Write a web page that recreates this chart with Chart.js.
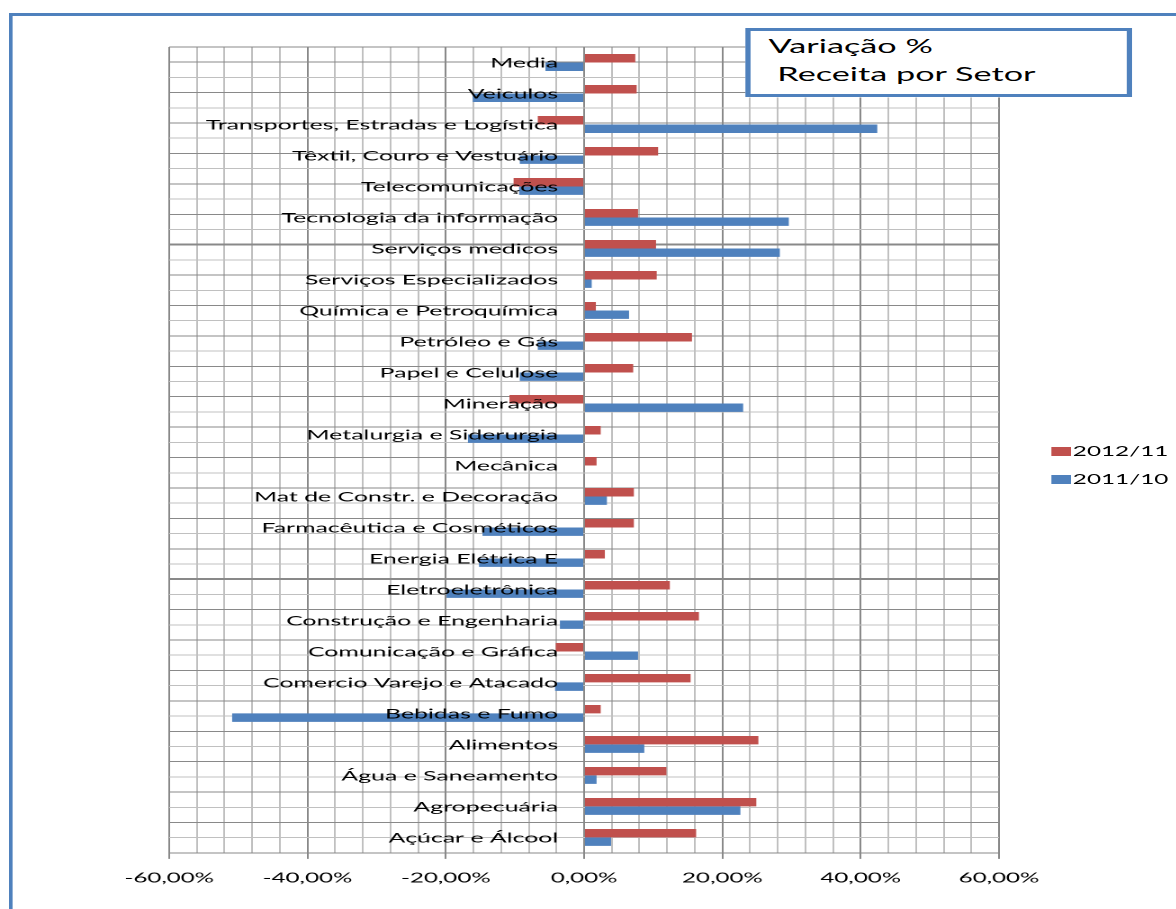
<!DOCTYPE html>
<html lang="pt-BR">
<head>
<meta charset="utf-8">
<title>Variação % Receita por Setor</title>
<script src="https://cdn.jsdelivr.net/npm/chart.js@4.4.1/dist/chart.umd.min.js"></script>
<style>
  html, body { margin: 0; background: #fff; overflow: hidden; }
  /* the sheet is laid out narrow and widened 1.8x, like the exported sheet */
  #sheet {
    position: relative;
    width: 654px;
    height: 909px;
    transform: scaleX(1.8);
    transform-origin: 0 0;
    font-family: Lato, "Open Sans", sans-serif;
    color: #000;
  }
  #frame {
    position: absolute;
    left: 5px;
    top: 13px;
    width: 700px;
    height: 950px;
    border-top: 3px solid #4f81bd;
    border-left: 2.5px solid #4f81bd;
  }
  #chartWrap { position: absolute; left: 0; top: 0; width: 654px; height: 909px; }
  #titleBox {
    position: absolute;
    left: 414px;
    top: 28px;
    width: 215px;
    height: 69px;
    box-sizing: border-box;
    border: 3px solid #4f81bd;
    background: #fff;
    padding: 1px 0 0 10px;
    font-size: 19px;
    line-height: 28px;
    white-space: pre;
  }
  #legend {
    position: absolute;
    left: 584px;
    top: 437px;
    font-size: 13.5px;
    line-height: 28px;
    white-space: nowrap;
  }
  #legend .swatch { display: inline-block; width: 11px; height: 9px; margin-right: 1px; }
</style>
</head>
<body>
<div id="sheet">
  <div id="frame"></div>
  <div id="chartWrap"><canvas id="sectorChart"></canvas></div>
  <div id="titleBox">Variação %
 Receita por Setor</div>
  <div id="legend"></div>
</div>
<script>
// sectors, top to bottom
const sectors = [
  'Media', 'Veiculos', 'Transportes, Estradas e Logística', 'Têxtil, Couro e Vestuário',
  'Telecomunicações', 'Tecnologia da informação', 'Serviços medicos', 'Serviços Especializados',
  'Química e Petroquímica', 'Petróleo e Gás', 'Papel e Celulose', 'Mineração',
  'Metalurgia e Siderurgia', 'Mecânica', 'Mat de Constr. e Decoração', 'Farmacêutica e Cosméticos',
  'Energia Elétrica E', 'Eletroeletrônica', 'Construção e Engenharia', 'Comunicação e Gráfica',
  'Comercio Varejo e Atacado', 'Bebidas e Fumo', 'Alimentos', 'Água e Saneamento',
  'Agropecuária', 'Açúcar e Álcool'
];

// variação % 2012/11
const var2012 = [
  7.4, 7.6, -6.7, 10.7, -10.2, 7.8, 10.4, 10.5,
  1.7, 15.6, 7.1, -10.8, 2.4, 1.8, 7.2, 7.2,
  3.0, 12.4, 16.6, -4.1, 15.4, 2.4, 25.2, 11.9,
  24.9, 16.2
];

// variação % 2011/10
const var2011 = [
  -5.6, -16.1, 42.4, -9.3, -9.4, 29.6, 28.3, 1.1,
  6.5, -6.7, -9.3, 23.0, -16.8, 0, 3.3, -14.7,
  -15.2, -19.9, -3.5, 7.8, -4.2, -50.9, 8.7, 1.8,
  22.6, 3.9
];

const seriesNames = ['2012/11', '2011/10'];
const seriesColors = ['#c0504d', '#4f81bd'];

const axisMin = -60;
const axisMax = 60;
const minorStep = 4;
const labelledTicks = [-60, -40, -20, 0, 20, 40, 60];

const majorLine = '#898989';
const minorLine = '#c0c0c0';
// darker separators after Tecnologia and Energia
const heavyRows = [5.5, 16.5];

const pct = v => v.toFixed(2).replace('.', ',') + '%';
const isLabelled = c => c.tick && labelledTicks.includes(c.tick.value);

// sector names sit next to the zero line, over the bars
const sectorLabels = {
  id: 'sectorLabels',
  afterDatasetsDraw(chart) {
    const { ctx, scales: { x, y } } = chart;
    const right = x.getPixelForValue(0) - 14.4;
    ctx.save();
    ctx.font = '13.8px Lato';
    ctx.fillStyle = '#000';
    ctx.textAlign = 'right';
    ctx.textBaseline = 'alphabetic';
    chart.data.labels.forEach((name, i) => {
      ctx.fillText(name, right, y.getPixelForValue(i) + 5);
    });
    ctx.restore();
  }
};

new Chart(document.getElementById('sectorChart'), {
  type: 'bar',
  data: {
    labels: sectors,
    datasets: [
      { label: seriesNames[0], data: var2012, backgroundColor: seriesColors[0], xAxisID: 'x', yAxisID: 'y' },
      { label: seriesNames[1], data: var2011, backgroundColor: seriesColors[1], xAxisID: 'x', yAxisID: 'y' }
    ]
  },
  options: {
    indexAxis: 'y',
    responsive: true,
    maintainAspectRatio: false,
    animation: false,
    devicePixelRatio: 2,
    datasets: {
      bar: { categoryPercentage: 0.545, barPercentage: 1, borderWidth: 0 }
    },
    layout: { padding: { left: 94, right: 99, top: 47, bottom: 12 } },
    plugins: {
      legend: { display: false },
      tooltip: { enabled: false }
    },
    scales: {
      x: {
        type: 'linear',
        min: axisMin,
        max: axisMax,
        grid: {
          color: c => isLabelled(c) ? majorLine : minorLine,
          tickColor: c => isLabelled(c) ? majorLine : 'rgba(0,0,0,0)',
          tickLength: 6
        },
        border: { color: majorLine },
        ticks: {
          stepSize: minorStep,
          autoSkip: false,
          maxRotation: 0,
          padding: 11,
          color: '#000',
          font: { family: 'Lato', size: 13.4 },
          callback: v => labelledTicks.includes(v) ? pct(v) : ''
        }
      },
      y: { type: 'category', display: false },
      yRows: {
        type: 'linear',
        axis: 'y',
        position: 'left',
        reverse: true,
        min: -0.5,
        max: sectors.length - 0.5,
        ticks: { display: false, stepSize: 0.5, autoSkip: false },
        grid: {
          drawTicks: false,
          color: c => c.tick && Number.isInteger(c.tick.value) ? minorLine : majorLine,
          lineWidth: c => c.tick && heavyRows.includes(c.tick.value) ? 2 : 1
        },
        border: { display: false }
      }
    }
  },
  plugins: [sectorLabels]
});

// legend on the right
const legend = document.getElementById('legend');
seriesNames.forEach((name, i) => {
  const row = document.createElement('div');
  row.innerHTML = `<span class="swatch" style="background:${seriesColors[i]}"></span>${name}`;
  legend.appendChild(row);
});
</script>
</body>
</html>
